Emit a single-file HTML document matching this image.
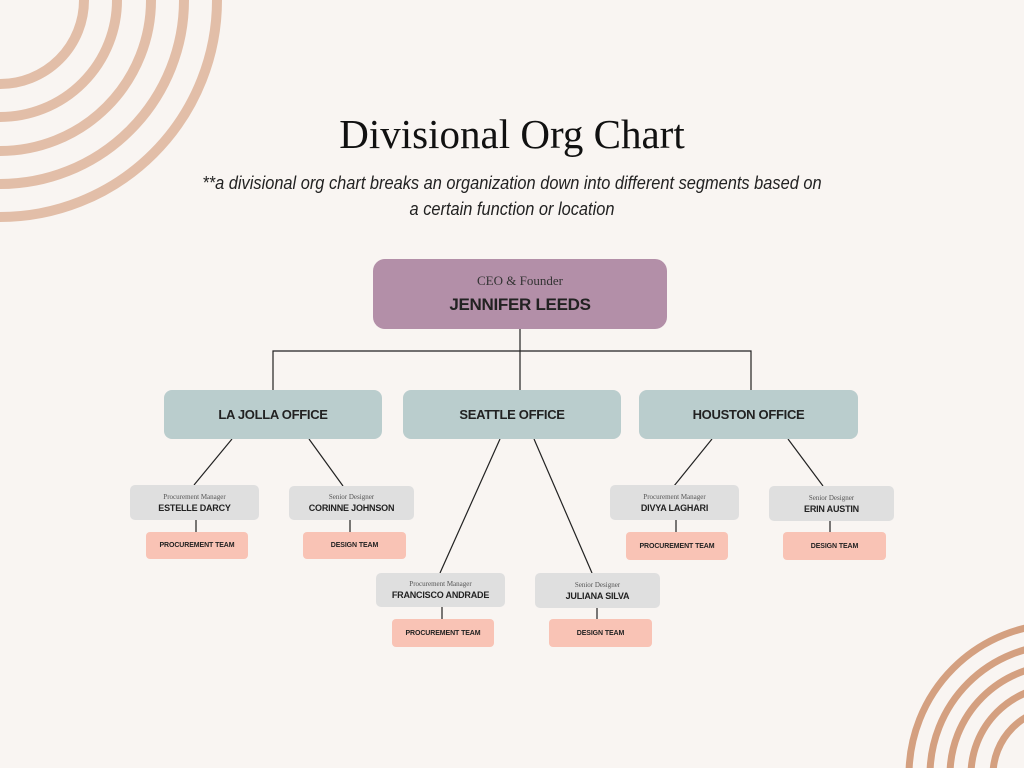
<!DOCTYPE html>
<html><head><meta charset="utf-8"><style>
html,body{margin:0;width:1024px;height:768px;overflow:hidden}
body{background:#f9f5f2;position:relative;font-family:"Liberation Sans",sans-serif}
.b{position:absolute;box-sizing:border-box;display:flex;flex-direction:column;align-items:center;justify-content:center;text-align:center;color:#222}
.ceo{background:#b38fa8;border-radius:12px}
.off{background:#bacdcd;border-radius:8px;font-size:13px;font-weight:bold;letter-spacing:-0.3px}
.g{background:#dfdfdf;border-radius:5px}
.g .r{font-family:"Liberation Serif",serif;font-size:7px;color:#555}
.g .n{font-size:9px;font-weight:bold;margin-top:2px;letter-spacing:-0.2px}
.p{background:#f9c3b5;border-radius:4px;font-size:7px;font-weight:bold;letter-spacing:-0.1px}
</style></head><body>
<svg width="1024" height="768" style="position:absolute;left:0;top:0">
<g fill="none" stroke="#e2bea8" stroke-width="10">
<circle cx="0" cy="0" r="84"/><circle cx="0" cy="0" r="117"/><circle cx="0" cy="0" r="151"/><circle cx="0" cy="0" r="184"/><circle cx="0" cy="0" r="217"/>
</g>
<g fill="none" stroke="#d4a080" stroke-width="7">
<circle cx="1060" cy="775" r="151"/><circle cx="1060" cy="775" r="130"/><circle cx="1060" cy="775" r="110"/><circle cx="1060" cy="775" r="89"/><circle cx="1060" cy="775" r="67"/>
</g>
<g stroke="#222" stroke-width="1.2" fill="none">
<line x1="520" y1="329" x2="520" y2="390"/>
<polyline points="273,390 273,351 751,351 751,390"/>
<line x1="232" y1="439" x2="194" y2="485"/><line x1="309" y1="439" x2="343" y2="486"/>
<line x1="500" y1="439" x2="440" y2="573"/><line x1="534" y1="439" x2="592" y2="573"/>
<line x1="712" y1="439" x2="674" y2="486"/><line x1="788" y1="439" x2="823" y2="486"/>
<line x1="196" y1="520" x2="196" y2="532"/><line x1="350" y1="520" x2="350" y2="532"/>
<line x1="676" y1="520" x2="676" y2="532"/><line x1="830" y1="521" x2="830" y2="532"/>
<line x1="442" y1="607" x2="442" y2="619"/><line x1="597" y1="608" x2="597" y2="619"/>
</g>
</svg>
<div style="position:absolute;left:0;width:1024px;top:110px;text-align:center;font-family:'Liberation Serif',serif;font-size:41px;color:#111">Divisional Org Chart</div>
<div style="position:absolute;left:0;width:1024px;top:170px;text-align:center;font-style:italic;font-size:18px;line-height:26px;color:#222;transform:scaleX(0.91)">**a divisional org chart breaks an organization down into different segments based on<br>a certain function or location</div>
<div class="b ceo" style="left:373px;top:259px;width:294px;height:70px"><div style="font-family:'Liberation Serif',serif;font-size:13px;color:#333">CEO &amp; Founder</div><div style="font-size:17px;font-weight:bold;margin-top:6px;letter-spacing:-0.3px">JENNIFER LEEDS</div></div>
<div class="b off" style="left:164px;top:390px;width:218px;height:49px">LA JOLLA OFFICE</div>
<div class="b off" style="left:403px;top:390px;width:218px;height:49px">SEATTLE OFFICE</div>
<div class="b off" style="left:639px;top:390px;width:219px;height:49px">HOUSTON OFFICE</div>
<div class="b g" style="left:130px;top:485px;width:129px;height:35px"><div class="r">Procurement Manager</div><div class="n">ESTELLE DARCY</div></div>
<div class="b g" style="left:289px;top:486px;width:125px;height:34px"><div class="r">Senior Designer</div><div class="n">CORINNE JOHNSON</div></div>
<div class="b g" style="left:610px;top:485px;width:129px;height:35px"><div class="r">Procurement Manager</div><div class="n">DIVYA LAGHARI</div></div>
<div class="b g" style="left:769px;top:486px;width:125px;height:35px"><div class="r">Senior Designer</div><div class="n">ERIN AUSTIN</div></div>
<div class="b g" style="left:376px;top:573px;width:129px;height:34px"><div class="r">Procurement Manager</div><div class="n">FRANCISCO ANDRADE</div></div>
<div class="b g" style="left:535px;top:573px;width:125px;height:35px"><div class="r">Senior Designer</div><div class="n">JULIANA SILVA</div></div>
<div class="b p" style="left:146px;top:532px;width:102px;height:27px">PROCUREMENT TEAM</div>
<div class="b p" style="left:303px;top:532px;width:103px;height:27px">DESIGN TEAM</div>
<div class="b p" style="left:626px;top:532px;width:102px;height:28px">PROCUREMENT TEAM</div>
<div class="b p" style="left:783px;top:532px;width:103px;height:28px">DESIGN TEAM</div>
<div class="b p" style="left:392px;top:619px;width:102px;height:28px">PROCUREMENT TEAM</div>
<div class="b p" style="left:549px;top:619px;width:103px;height:28px">DESIGN TEAM</div>
</body></html>
